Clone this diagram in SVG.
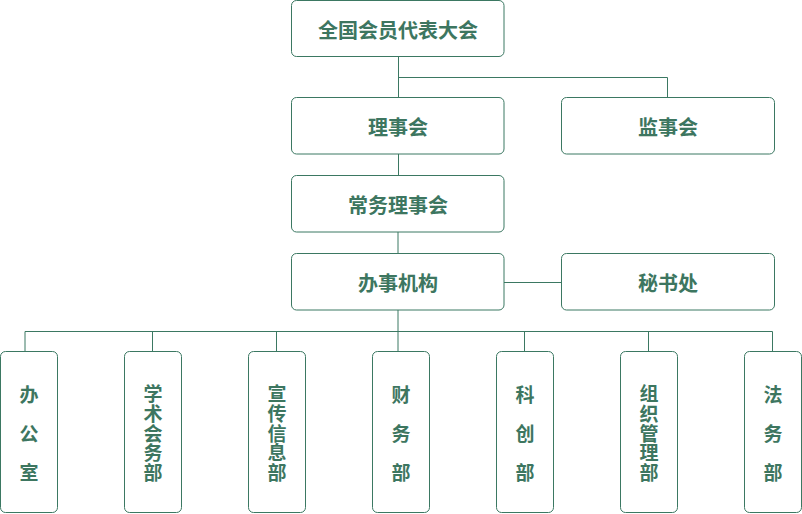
<svg xmlns="http://www.w3.org/2000/svg" width="802" height="514" viewBox="0 0 802 514">
<style>
.box{fill:#ffffff;stroke:#3b7862;stroke-width:1}
.ln{fill:none;stroke:#3b7862;stroke-width:1}
text{font-family:"Noto Sans CJK SC","Noto Sans",sans-serif;font-weight:bold;font-size:20px;fill:#3d7660;text-anchor:middle;dominant-baseline:central}
text.v{font-size:19px}
</style>
<rect width="802" height="514" fill="#ffffff"/>
<g id="connectors">
<path class="ln" d="M398.5 56.5V97.5M398.5 77.5H667.5V97.5"/>
<path class="ln" d="M398.5 154V175.5"/>
<path class="ln" d="M398 232V253.5"/>
<path class="ln" d="M504 282.5H561.5"/>
<path class="ln" d="M398 310V351.5"/>
<path class="ln" d="M25 331.5H772.5M25 331.5V351.5M152.5 331.5V351.5M276.5 331.5V351.5M524.5 331.5V351.5M648.5 331.5V351.5M772.5 331.5V351.5"/>
</g>
<g id="n-quanguo"><rect class="box" x="291.5" y="0.5" width="212.5" height="56" rx="5"/><text x="398" y="29">全国会员代表大会</text></g>
<g id="n-lishi"><rect class="box" x="291.5" y="97.5" width="212.5" height="56.5" rx="5"/><text x="398" y="126">理事会</text></g>
<g id="n-jianshi"><rect class="box" x="561.5" y="97.5" width="213" height="56.5" rx="5"/><text x="668" y="126">监事会</text></g>
<g id="n-changwu"><rect class="box" x="291.5" y="175.5" width="212.5" height="56.5" rx="5"/><text x="398" y="204">常务理事会</text></g>
<g id="n-banshi"><rect class="box" x="291.5" y="253.5" width="212.5" height="56.5" rx="5"/><text x="398" y="282">办事机构</text></g>
<g id="n-mishu"><rect class="box" x="561.5" y="253.5" width="213" height="56.5" rx="5"/><text x="668" y="282">秘书处</text></g>
<g id="n-bangong"><rect class="box" x="0.5" y="351.5" width="57" height="161" rx="5"/><text class="v" x="29" y="393">办</text><text class="v" x="29" y="432">公</text><text class="v" x="29" y="471">室</text></g>
<g id="n-xueshu"><rect class="box" x="124.5" y="351.5" width="57" height="161" rx="5"/><text class="v" x="153" y="392.5">学</text><text class="v" x="153" y="412.3">术</text><text class="v" x="153" y="432">会</text><text class="v" x="153" y="451.8">务</text><text class="v" x="153" y="471.5">部</text></g>
<g id="n-xuanchuan"><rect class="box" x="248.5" y="351.5" width="57" height="161" rx="5"/><text class="v" x="277" y="392.5">宣</text><text class="v" x="277" y="412.3">传</text><text class="v" x="277" y="432">信</text><text class="v" x="277" y="451.8">息</text><text class="v" x="277" y="471.5">部</text></g>
<g id="n-caiwu"><rect class="box" x="372.5" y="351.5" width="57" height="161" rx="5"/><text class="v" x="401" y="393">财</text><text class="v" x="401" y="432">务</text><text class="v" x="401" y="471">部</text></g>
<g id="n-kechuang"><rect class="box" x="496.5" y="351.5" width="57" height="161" rx="5"/><text class="v" x="525" y="393">科</text><text class="v" x="525" y="432">创</text><text class="v" x="525" y="471">部</text></g>
<g id="n-zuzhi"><rect class="box" x="620.5" y="351.5" width="57" height="161" rx="5"/><text class="v" x="649" y="392.5">组</text><text class="v" x="649" y="412.3">织</text><text class="v" x="649" y="432">管</text><text class="v" x="649" y="451.8">理</text><text class="v" x="649" y="471.5">部</text></g>
<g id="n-fawu"><rect class="box" x="744.5" y="351.5" width="57" height="161" rx="5"/><text class="v" x="773" y="393">法</text><text class="v" x="773" y="432">务</text><text class="v" x="773" y="471">部</text></g>
</svg>
